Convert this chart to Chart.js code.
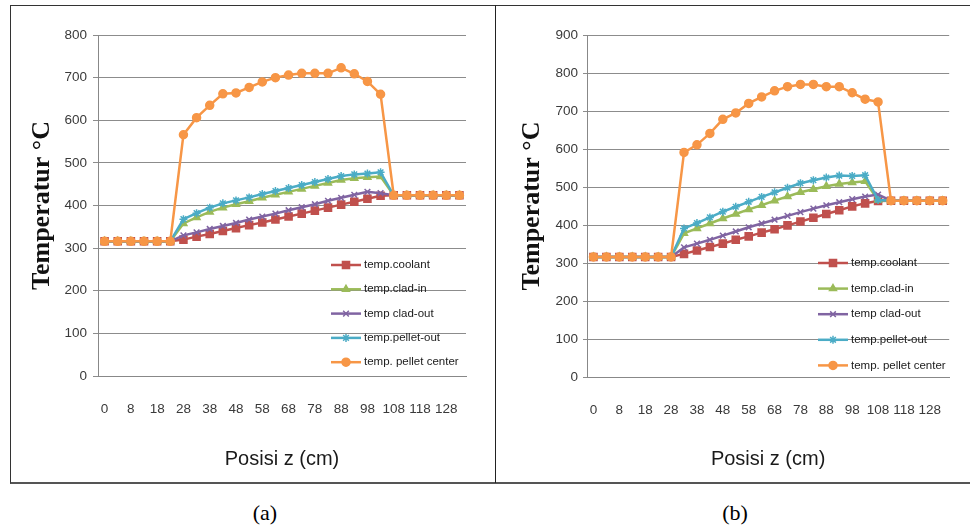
<!DOCTYPE html>
<html>
<head>
<meta charset="utf-8">
<script src="https://cdn.jsdelivr.net/npm/chart.js@4.4.1/dist/chart.umd.min.js"></script>
<style>
  body { margin: 0; background: #fff; width: 970px; height: 526px; position: relative; overflow: hidden; }
  .frame { position: absolute; left: 10px; top: 5px; width: 962px; height: 476px; border: 1px solid #333; border-right: none; border-bottom: 2px solid #555; }
  .divider { position: absolute; left: 495px; top: 5px; width: 1px; height: 478px; background: #222; }
  canvas { position: absolute; }
  .cap { position: absolute; top: 500px; width: 60px; text-align: center; font: 22px 'Liberation Serif', 'DejaVu Serif', serif; color: #000; }
</style>
</head>
<body>
<div class="frame"></div>
<div class="divider"></div>
<canvas id="chartA" width="483" height="476" style="left:11px;top:6px"></canvas>
<canvas id="chartB" width="472" height="476" style="left:496px;top:6px"></canvas>
<div class="cap" style="left:235px">(a)</div>
<div class="cap" style="left:705px">(b)</div>
<script>
// posisi z (cm), every second one is labelled on the axis
const zLabels = ['0','3','8','13','18','23','28','33','38','43','48','53','58','63','68','73','78','83','88','93','98','103','108','113','118','123','128','133'];
const seriesNames = ['temp.coolant', 'temp.clad-in', 'temp clad-out', 'temp.pellet-out', 'temp. pellet center'];

// chart (a)
const coolantA   = [316,316,316,316,316,316,320,327,333,340,347,354,360,367,374,381,388,395,402,409,416,423,424,424,424,424,424,424];
const cladInA    = [316,316,316,316,316,316,358,372,385,395,403,410,418,425,432,439,446,453,460,464,466,468,424,424,424,424,424,424];
const cladOutA   = [316,316,316,316,316,316,330,337,345,352,359,367,374,381,389,396,403,411,418,425,432,429,424,424,424,424,424,424];
const pelletOutA = [316,316,316,316,316,316,368,382,395,405,412,419,427,434,441,448,455,462,469,473,475,478,424,424,424,424,424,424];
const centerA    = [316,316,316,316,316,316,566,606,635,662,664,677,690,700,706,710,710,710,723,709,691,661,424,424,424,424,424,424];

// chart (b)
const coolantB   = [316,316,316,316,316,316,316,324,333,342,351,361,370,380,389,399,409,419,429,439,449,457,463,464,464,464,464,464];
const cladInB    = [316,316,316,316,316,316,316,378,391,404,417,429,441,452,464,475,486,494,502,508,512,515,466,464,464,464,464,464];
const cladOutB   = [316,316,316,316,316,316,316,341,351,361,372,383,394,404,414,424,434,443,452,460,468,475,480,464,464,464,464,464];
const pelletOutB = [316,316,316,316,316,316,316,391,405,420,435,448,461,474,486,498,510,518,525,530,529,531,466,464,464,464,464,464];
const centerB    = [316,316,316,316,316,316,316,591,611,641,678,695,720,737,753,764,770,770,764,764,748,731,724,464,464,464,464,464];

const colors = ['#C0504D', '#9BBB59', '#8064A2', '#4BACC6', '#F79646'];
const markers = ['rect', 'triangle', 'crossRot', 'star', 'circle'];
const markerSize = [5, 4, 4, 4, 4];

const sans = "'Liberation Sans', Arial, sans-serif";
const serif = "'Liberation Serif', 'DejaVu Serif', serif";

// legend drawn inside the plot, like the excel one
const insideLegend = {
    id: 'insideLegend',
    afterDraw(chart, args, opts) {
        const ctx = chart.ctx;
        ctx.save();
        ctx.font = opts.font;
        ctx.textBaseline = 'middle';
        chart.data.datasets.forEach((ds, i) => {
            const y = opts.y + i * opts.gap;
            ctx.strokeStyle = ds.borderColor;
            ctx.fillStyle = ds.borderColor;
            ctx.lineWidth = 2.5;
            ctx.beginPath();
            ctx.moveTo(opts.x, y);
            ctx.lineTo(opts.x + 30, y);
            ctx.stroke();
            if (Chart.helpers && Chart.helpers.drawPoint) {
                ctx.lineWidth = 1.5;
                Chart.helpers.drawPoint(ctx, { pointStyle: ds.pointStyle, radius: ds.pointRadius, borderWidth: 1.5, rotation: 0 }, opts.x + 15, y);
            }
            ctx.fillStyle = '#1a1a1a';
            ctx.fillText(ds.label, opts.x + 33, y);
        });
        ctx.restore();
    }
};

function makeChart(id, series, yMax, lay) {
    const datasets = series.map((data, i) => ({
        label: seriesNames[i],
        data: data,
        borderColor: colors[i],
        backgroundColor: colors[i],
        borderWidth: 2.5,
        pointStyle: markers[i],
        pointRadius: markerSize[i],
        pointBorderWidth: 1.5,
        tension: 0,
        order: series.length - i
    }));
    return new Chart(document.getElementById(id), {
        type: 'line',
        data: { labels: zLabels, datasets: datasets },
        options: {
            responsive: false,
            animation: false,
            devicePixelRatio: 1,
            layout: { padding: { left: 0, top: 29, right: lay.right, bottom: 0 } },
            plugins: {
                legend: { display: false },
                tooltip: { enabled: false },
                insideLegend: { x: lay.legX, y: lay.legY, gap: lay.legGap, font: '11.5px ' + sans }
            },
            scales: {
                x: {
                    offset: true,
                    grid: { display: false, drawTicks: false },
                    border: { display: true, color: '#888' },
                    ticks: {
                        autoSkip: false, maxRotation: 0, padding: 25,
                        color: '#3a3a3a', font: { family: sans, size: 13.5 },
                        callback: function (v, i) { return i % 2 === 0 ? this.getLabelForValue(v) : ''; }
                    },
                    title: { display: true, text: 'Posisi z (cm)', color: '#1a1a1a', font: { family: sans, size: 20 }, padding: { top: 0, bottom: 11 } },
                    afterFit: s => { s.height = lay.xHeight; }
                },
                y: {
                    min: 0, max: yMax,
                    ticks: { stepSize: 100, padding: lay.tickPad, color: '#3a3a3a', font: { family: sans, size: 13.5 } },
                    grid: { color: '#8c8c8c', lineWidth: 1, tickLength: lay.tickLen },
                    border: { color: '#888' },
                    title: { display: true, text: 'Temperatur °C', color: '#111', font: { family: serif, size: 26, weight: 'bold' }, padding: { top: lay.titlePad, bottom: 0 } },
                    afterFit: s => { s.width = lay.yWidth; }
                }
            }
        },
        plugins: [insideLegend]
    });
}

makeChart('chartA', [coolantA, cladInA, cladOutA, pelletOutA, centerA], 800,
    { right: 28, xHeight: 106, yWidth: 87, tickLen: 5, tickPad: 6, titlePad: 16, legX: 320, legY: 259, legGap: 24.3 });
makeChart('chartB', [coolantB, cladInB, cladOutB, pelletOutB, centerB], 900,
    { right: 15, xHeight: 105, yWidth: 91, tickLen: 4, tickPad: 5, titlePad: 21, legX: 322, legY: 257, legGap: 25.6 });
</script>
</body>
</html>
